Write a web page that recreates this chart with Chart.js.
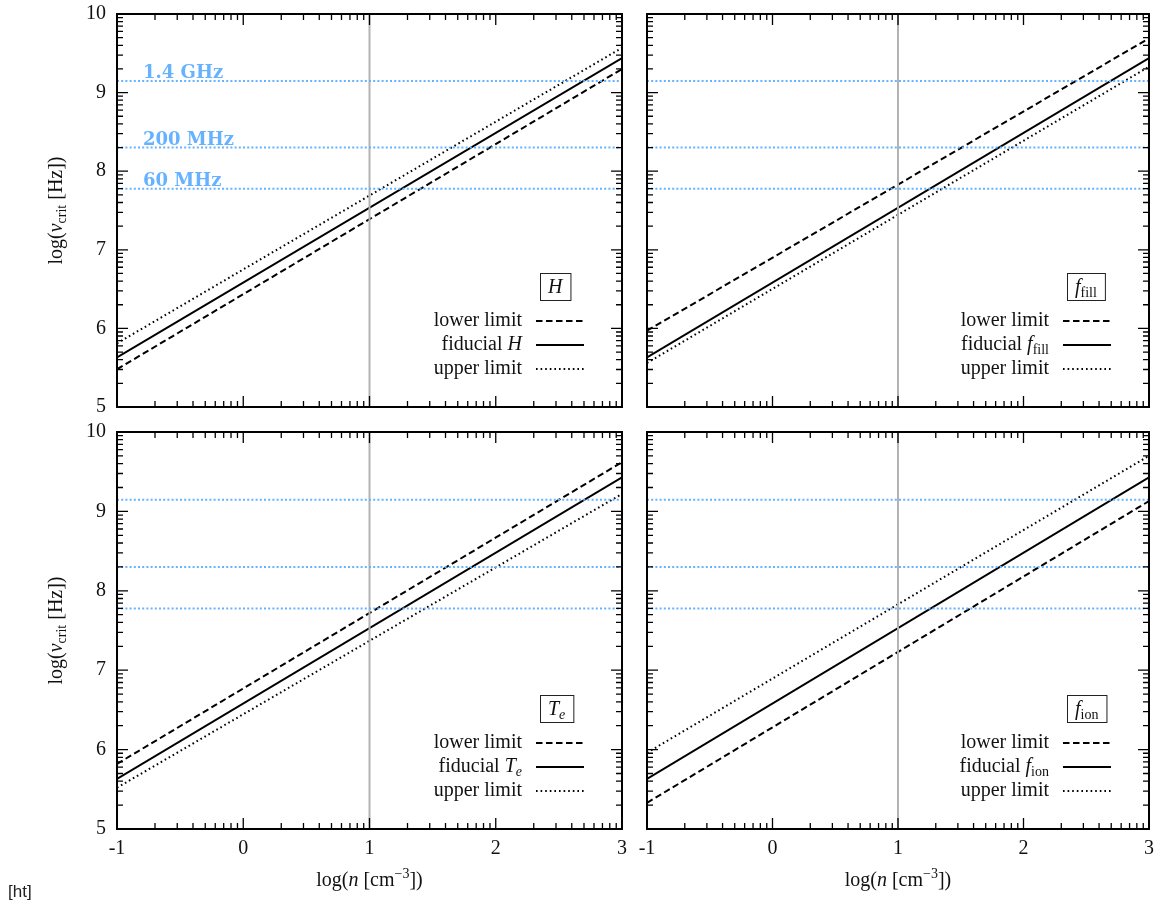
<!DOCTYPE html>
<html>
<head>
<meta charset="utf-8">
<script src="https://cdn.jsdelivr.net/npm/chart.js@4"></script>
<style>
  html, body { margin: 0; padding: 0; background: #fff; }
  #wrap { position: relative; width: 1160px; height: 906px; }
  #wrap canvas { position: absolute; left: 0; top: 0; }
  #ht { position: absolute; left: 8px; top: 882px; font: 17px 'Liberation Sans', sans-serif; color: #222; }
</style>
</head>
<body>
<div id="wrap">
  <canvas id="panel-h" width="1160" height="906"></canvas>
  <canvas id="panel-ffill" width="1160" height="906"></canvas>
  <canvas id="panel-te" width="1160" height="906"></canvas>
  <canvas id="panel-fion" width="1160" height="906"></canvas>
  <div id="ht">[ht]</div>
</div>
<script>
// log(n) at the two ends of each line
const logN = [-1, 3];

// horizontal reference frequencies, log(Hz)
const freqLog = [9.146, 8.301, 7.778];
const freqLabels = ['1.4 GHz', '200 MHz', '60 MHz'];

const xTickValues = [-1, 0, 1, 2, 3];
const yTickValues = [5, 6, 7, 8, 9, 10];
const densityMark = 1; // grey vertical line

// log(nu_crit) at logN ends, per panel
const hLower = [5.48, 9.30];
const hFiducial = [5.63, 9.44];
const hUpper = [5.81, 9.57];

const ffillLower = [5.97, 9.69];
const ffillFiducial = [5.63, 9.44];
const ffillUpper = [5.56, 9.33];

const teLower = [5.82, 9.62];
const teFiducial = [5.63, 9.43];
const teUpper = [5.52, 9.22];

const fionLower = [5.33, 9.13];
const fionFiducial = [5.63, 9.43];
const fionUpper = [5.96, 9.70];

const fontFamily = "'Liberation Serif', 'DejaVu Serif', serif";
const textColor = '#111';
const freqColor = '#66b2ff';
const markColor = '#b3b3b3';

const panels = [
    { id: 'panel-h', area: { l: 117, t: 14, r: 622, b: 407 }, showX: false, showY: true, freqText: true,
      lower: hLower, fid: hFiducial, upper: hUpper,
      symbol: [{ t: 'H', it: true }] },
    { id: 'panel-ffill', area: { l: 647, t: 14, r: 1149, b: 407 }, showX: false, showY: false, freqText: false,
      lower: ffillLower, fid: ffillFiducial, upper: ffillUpper,
      symbol: [{ t: 'f', it: true }, { t: 'fill', sub: true }] },
    { id: 'panel-te', area: { l: 117, t: 432, r: 622, b: 829 }, showX: true, showY: true, freqText: false,
      lower: teLower, fid: teFiducial, upper: teUpper,
      symbol: [{ t: 'T', it: true }, { t: 'e', it: true, sub: true }] },
    { id: 'panel-fion', area: { l: 647, t: 432, r: 1149, b: 829 }, showX: true, showY: false, freqText: false,
      lower: fionLower, fid: fionFiducial, upper: fionUpper,
      symbol: [{ t: 'f', it: true }, { t: 'ion', sub: true }] }
];

function setFont(ctx, size, italic, bold) {
    ctx.font = (italic ? 'italic ' : '') + (bold ? 'bold ' : '') + size + 'px ' + fontFamily;
}

function partSize(p, size) {
    return (p.sub || p.sup) ? Math.round(size * 0.7) : size;
}

function richWidth(ctx, parts, size) {
    let w = 0;
    parts.forEach(p => {
        setFont(ctx, partSize(p, size), p.it);
        w += ctx.measureText(p.t).width;
    });
    return w;
}

// draws mixed italic / subscript text, y is the baseline
function drawRich(ctx, parts, x, y, size, align) {
    const w = richWidth(ctx, parts, size);
    let cx = align === 'right' ? x - w : (align === 'center' ? x - w / 2 : x);
    ctx.textAlign = 'left';
    ctx.textBaseline = 'alphabetic';
    parts.forEach(p => {
        setFont(ctx, partSize(p, size), p.it);
        const dy = p.sub ? size * 0.22 : (p.sup ? -size * 0.4 : 0);
        ctx.fillText(p.t, cx, y + dy);
        cx += ctx.measureText(p.t).width;
    });
    return w;
}

function minorTicks(from, to) {
    const out = [];
    for (let k = from; k < to; k++) {
        for (let m = 2; m <= 9; m++) out.push(k + Math.log10(m));
    }
    return out;
}

const framePlugin = {
    id: 'frameAndLabels',
    afterDatasetsDraw(chart, args, opts) {
        const panel = opts.panel;
        const ctx = chart.ctx;
        const a = chart.chartArea;
        const xs = chart.scales.x;
        const ys = chart.scales.y;
        ctx.save();

        // inward ticks on all four sides
        ctx.strokeStyle = '#000';
        ctx.lineWidth = 1.3;
        ctx.beginPath();
        const tick = (vals, len, isX) => {
            vals.forEach(v => {
                if (isX) {
                    const px = xs.getPixelForValue(v);
                    ctx.moveTo(px, a.bottom); ctx.lineTo(px, a.bottom - len);
                    ctx.moveTo(px, a.top); ctx.lineTo(px, a.top + len);
                } else {
                    const py = ys.getPixelForValue(v);
                    ctx.moveTo(a.left, py); ctx.lineTo(a.left + len, py);
                    ctx.moveTo(a.right, py); ctx.lineTo(a.right - len, py);
                }
            });
        };
        tick(xTickValues, 11, true);
        tick(minorTicks(-1, 3), 6, true);
        tick(yTickValues, 11, false);
        tick(minorTicks(5, 10), 6, false);
        ctx.stroke();

        ctx.lineWidth = 2;
        ctx.strokeRect(a.left, a.top, a.right - a.left, a.bottom - a.top);

        // frequency labels
        if (panel.freqText) {
            ctx.fillStyle = freqColor;
            ctx.textAlign = 'left';
            ctx.textBaseline = 'alphabetic';
            ctx.font = "bold 18px 'DejaVu Serif', serif";
            freqLog.forEach((f, i) => {
                ctx.fillText(freqLabels[i], a.left + 26, ys.getPixelForValue(f) - 3);
            });
        }

        // legend
        ctx.fillStyle = textColor;
        const boxLeft = a.right - 82;
        const boxTop = a.bottom - 134;
        const symW = richWidth(ctx, panel.symbol, 20);
        ctx.lineWidth = 1;
        ctx.strokeStyle = '#222';
        ctx.strokeRect(boxLeft + 0.5, boxTop + 0.5, symW + 16, 27);
        drawRich(ctx, panel.symbol, boxLeft + 8, boxTop + 20, 20, 'left');

        const rows = [
            { parts: [{ t: 'lower limit' }], dash: [6.5, 3.5] },
            { parts: [{ t: 'fiducial ' }].concat(panel.symbol), dash: [] },
            { parts: [{ t: 'upper limit' }], dash: [1.6, 3] }
        ];
        rows.forEach((row, i) => {
            const cy = a.bottom - 86 + i * 24;
            drawRich(ctx, row.parts, a.right - 100, cy + 5, 20, 'right');
            ctx.beginPath();
            ctx.setLineDash(row.dash);
            ctx.lineWidth = 2;
            ctx.strokeStyle = '#000';
            ctx.moveTo(a.right - 86, cy);
            ctx.lineTo(a.right - 38, cy);
            ctx.stroke();
        });
        ctx.setLineDash([]);

        // axis titles
        if (panel.showY) {
            ctx.save();
            ctx.translate(62, (a.top + a.bottom) / 2);
            ctx.rotate(-Math.PI / 2);
            drawRich(ctx, [{ t: 'log(' }, { t: 'ν', it: true }, { t: 'crit', sub: true }, { t: ' [Hz])' }], 0, 0, 20, 'center');
            ctx.restore();
        }
        if (panel.showX) {
            drawRich(ctx, [{ t: 'log(' }, { t: 'n', it: true }, { t: ' [cm' }, { t: '−3', sup: true }, { t: '])' }],
                (a.left + a.right) / 2, 886, 20, 'center');
        }
        ctx.restore();
    }
};

function line(values, style) {
    return Object.assign({
        data: logN.map((x, i) => ({ x: x, y: values[i] })),
        borderColor: '#000',
        borderWidth: 2,
        pointRadius: 0,
        fill: false
    }, style);
}

panels.forEach(panel => {
    const ctx = document.getElementById(panel.id).getContext('2d');
    const datasets = [];
    freqLog.forEach(f => {
        datasets.push(line([f, f], { borderColor: freqColor, borderDash: [2, 2.2], borderWidth: 2 }));
    });
    datasets.push({
        data: [{ x: densityMark, y: yTickValues[0] }, { x: densityMark, y: yTickValues[yTickValues.length - 1] }],
        borderColor: markColor, borderWidth: 2, pointRadius: 0
    });
    datasets.push(line(panel.lower, { borderDash: [6.5, 3.5] }));
    datasets.push(line(panel.fid, {}));
    datasets.push(line(panel.upper, { borderDash: [1.6, 3] }));

    new Chart(ctx, {
        type: 'line',
        data: { datasets: datasets },
        options: {
            responsive: false,
            animation: false,
            layout: {
                padding: {
                    left: panel.area.l - 40,
                    top: panel.area.t,
                    right: 1160 - panel.area.r,
                    bottom: 906 - panel.area.b - 40
                }
            },
            plugins: {
                legend: { display: false },
                tooltip: { enabled: false },
                frameAndLabels: { panel: panel }
            },
            scales: {
                x: {
                    type: 'linear',
                    min: xTickValues[0],
                    max: xTickValues[xTickValues.length - 1],
                    grid: { display: false, drawTicks: false },
                    border: { display: false },
                    afterBuildTicks: s => { s.ticks = xTickValues.map(v => ({ value: v })); },
                    afterFit: s => { s.height = 40; s.paddingLeft = 0; s.paddingRight = 0; },
                    ticks: {
                        display: panel.showX,
                        padding: 8,
                        color: textColor,
                        font: { family: fontFamily, size: 20 },
                        callback: v => String(v)
                    }
                },
                y: {
                    type: 'linear',
                    min: yTickValues[0],
                    max: yTickValues[yTickValues.length - 1],
                    grid: { display: false, drawTicks: false },
                    border: { display: false },
                    afterBuildTicks: s => { s.ticks = yTickValues.map(v => ({ value: v })); },
                    afterFit: s => { s.width = 40; s.paddingTop = 0; s.paddingBottom = 0; },
                    ticks: {
                        display: panel.showY,
                        padding: 11,
                        color: textColor,
                        font: { family: fontFamily, size: 20 },
                        callback: v => String(v)
                    }
                }
            }
        },
        plugins: [framePlugin]
    });
});
</script>
</body>
</html>
